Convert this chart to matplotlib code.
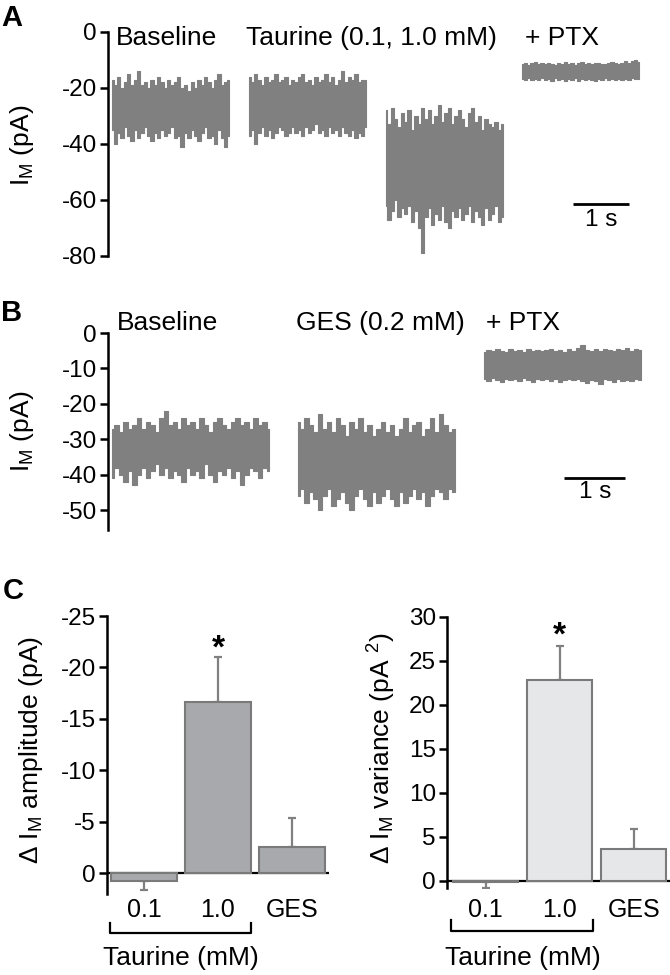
import numpy as np
import matplotlib
matplotlib.use('Agg')
import matplotlib.pyplot as plt

plt.rcParams['font.family'] = ['Liberation Sans', 'DejaVu Sans']
plt.rcParams['mathtext.fontset'] = 'custom'
plt.rcParams['mathtext.rm'] = 'Liberation Sans'
plt.rcParams['mathtext.it'] = 'Liberation Sans:italic'

# ---- panel A traces (pA): upper / lower envelope of the noisy current ----
a_labels = ['Baseline', 'Taurine (0.1, 1.0 mM)', '+ PTX']
a_base_hi = [-17, -19, -16, -20, -18, -15, -19, -17, -14, -19, -18, -20, -17, -19, -16, -18, -20, -17,
             -19, -18, -16, -20, -19, -21, -18, -20, -17, -19, -16, -18, -20, -17, -15, -19, -18, -17]
a_base_lo = [-35, -40, -36, -38, -34, -37, -39, -35, -38, -36, -34, -37, -39, -36, -38, -35, -37, -36,
             -34, -38, -37, -41, -36, -38, -35, -37, -39, -36, -34, -38, -37, -40, -35, -38, -41, -37]
a_tau01_hi = [-16, -18, -15, -17, -19, -16, -18, -17, -15, -18, -17, -16, -19, -17, -18, -16, -15, -18,
              -17, -19, -16, -18, -17, -15, -18, -16, -19, -17, -14, -18, -16, -17, -15, -18, -17, -17]
a_tau01_lo = [-37, -35, -40, -36, -34, -37, -35, -38, -36, -34, -35, -37, -36, -34, -36, -35, -37, -34,
              -36, -35, -33, -36, -35, -37, -34, -36, -35, -37, -34, -36, -37, -35, -38, -36, -37, -34]
a_tau10_hi = [-28, -33, -27, -31, -34, -29, -32, -28, -35, -30, -33, -27, -31, -28, -33, -30, -26, -32,
              -29, -27, -33, -30, -28, -31, -34, -29, -27, -32, -30, -35, -31, -33, -34, -32, -35, -33]
a_tau10_lo = [-62, -67, -64, -60, -66, -63, -65, -62, -68, -64, -70, -79, -66, -63, -69, -65, -67, -62,
              -68, -70, -64, -66, -63, -67, -65, -62, -68, -64, -66, -69, -63, -67, -65, -62, -68, -66]
a_ptx_hi = [-11.5, -11, -11.8, -11.2, -10.8, -11.5, -11, -11.6, -10.9, -11.3, -11.7, -11, -11.4, -10.8,
            -11.5, -11.2, -11.8, -11, -10.7, -11.4, -11.1, -11.6, -11, -10.9, -11.3, -11.5, -11, -10.6,
            -11.2, -11.4, -11, -10.5, -11.2, -10.3, -10.1, -10.8]
a_ptx_lo = [-16.8, -17.2, -16.5, -17, -16.7, -17.3, -16.6, -17, -16.9, -17.4, -16.6, -17, -16.8, -17.5,
            -16.7, -17.1, -16.6, -17.6, -16.9, -17.2, -16.7, -17, -17.4, -16.8, -17.1, -16.6, -17.3,
            -16.9, -17, -16.7, -17.2, -16.8, -17, -16.6, -16.9, -16.8]

# ---- panel B traces ----
b_labels = ['Baseline', 'GES (0.2 mM)', '+ PTX']
b_base_hi = [-27, -26, -28, -25, -27, -26, -24, -27, -25, -26, -28, -24, -22, -26, -25, -27, -24, -26,
             -25, -27, -24, -26, -28, -25, -24, -26, -27, -25, -24, -26, -25, -27, -24, -26, -25, -27]
b_base_lo = [-41, -38, -40, -42, -39, -43, -40, -38, -41, -39, -37, -40, -38, -41, -39, -40, -42, -38,
             -40, -39, -41, -37, -40, -42, -39, -40, -38, -41, -39, -43, -40, -38, -39, -41, -38, -39]
b_ges_hi = [-25, -27, -24, -26, -28, -23, -27, -25, -28, -24, -26, -29, -25, -27, -24, -28, -26, -29,
            -27, -25, -28, -26, -29, -27, -24, -28, -26, -25, -29, -27, -24, -28, -23, -26, -28, -27]
b_ges_lo = [-46, -44, -48, -45, -47, -50, -46, -44, -49, -47, -45, -48, -50, -46, -44, -47, -49, -45,
            -48, -46, -44, -47, -49, -45, -48, -46, -44, -47, -45, -49, -46, -44, -45, -47, -44, -45]
b_ptx_hi = [-5.5, -4.8, -5.2, -4.5, -5, -5.4, -4.6, -5.1, -4.8, -5.3, -4.4, -5, -4.7, -5.2, -4.9, -4.5,
            -5.1, -4.8, -5.3, -4.6, -5, -4.2, -3.5, -4.8, -5.1, -4.6, -5, -4.4, -4.9, -5.2, -4.6, -4.9,
            -4.3, -5, -4.5, -4.8]
b_ptx_lo = [-13, -13.5, -12.8, -13.2, -13.8, -12.9, -13.3, -13, -13.6, -12.8, -13.2, -13.9, -13.1, -13.4,
            -12.9, -13.5, -13, -13.7, -13.2, -12.9, -13.4, -13.1, -13.6, -14, -13.2, -13.5, -14.3, -13.1,
            -13.4, -13.8, -13, -13.5, -13.2, -13.6, -13, -13.3]

# ---- panel C summary ----
c_cats = ['0.1', '1.0', 'GES']
amp_mean = [0.8, -16.6, -2.5]
amp_err = [0.85, 4.4, 2.85]
var_mean = [-0.1, 22.8, 3.6]
var_err = [0.7, 3.9, 2.3]

TRACE = '#808080'
W, H = 670, 975
FS_TXT = 19
FS_TICK = 17.5
fig = plt.figure(figsize=(6.7, 9.75), dpi=100)


def px_axes(l, r, t, b):
    return fig.add_axes([l / W, 1 - b / H, (r - l) / W, (b - t) / H])


def trace_axes(ax, ticks, bottom):
    for s in ['top', 'right', 'bottom']:
        ax.spines[s].set_visible(False)
    ax.spines['left'].set_linewidth(1.8)
    ax.spines['left'].set_bounds(bottom, 0)
    ax.set_xticks([])
    ax.set_yticks(ticks)
    ax.set_yticklabels([str(v) for v in ticks])
    ax.tick_params(axis='y', direction='out', length=6, width=1.8, labelsize=FS_TICK, pad=2)


def draw_trace(ax, t0, dur, hi, lo):
    t = np.linspace(t0, t0 + dur, len(hi))
    ax.fill_between(t, lo, hi, step='mid', color=TRACE, lw=0.8, edgecolor=TRACE)


# Panel A
axA = px_axes(108, 645.6, 26.4, 261.6)
axA.set_xlim(0, 9.6)
axA.set_ylim(-82, 2)
trace_axes(axA, [0, -20, -40, -60, -80], -80)
dur_a = 2.09
for t0, hi, lo in zip([0.07, 2.52, 4.96, 7.39],
                      [a_base_hi, a_tau01_hi, a_tau10_hi, a_ptx_hi],
                      [a_base_lo, a_tau01_lo, a_tau10_lo, a_ptx_lo]):
    draw_trace(axA, t0, dur_a, hi, lo)
for x, lab in zip([0.14, 2.46, 7.44], a_labels):
    axA.text(x, -2.1, lab, fontsize=FS_TXT, ha='left', va='center')
axA.plot([8.3, 9.3], [-61.4, -61.4], color='k', lw=2, solid_capstyle='butt')
axA.text(8.8, -67.1, '1 s', fontsize=FS_TICK, ha='center', va='center')

# Panel B
axB = px_axes(108, 651, 322.4, 534.8)
axB.set_xlim(0, 8.9)
axB.set_ylim(-57, 3)
trace_axes(axB, [0, -10, -20, -30, -40, -50], -55.6)
dur_b = 2.57
for t0, hi, lo in zip([0.066, 3.11, 6.16],
                      [b_base_hi, b_ges_hi, b_ptx_hi],
                      [b_base_lo, b_ges_lo, b_ptx_lo]):
    draw_trace(axB, t0, dur_b, hi, lo)
for x, lab in zip([0.15, 3.08, 6.2], b_labels):
    axB.text(x, 2.8, lab, fontsize=FS_TXT, ha='left', va='center')
axB.plot([7.48, 8.48], [-41, -41], color='k', lw=2, solid_capstyle='butt')
axB.text(7.98, -44.9, '1 s', fontsize=FS_TICK, ha='center', va='center')


def bar_axes(ax, means, errs, fill, ticks, spine_lo, spine_hi, y_lab, y_br, y_br_end, y_tau, y_star):
    x = np.arange(len(means))
    ax.axhline(0, color='k', lw=1.6, zorder=1)
    # error bars point away from zero, one-sided
    lo_err = [e if m < 0 else 0 for m, e in zip(means, errs)]
    hi_err = [e if m >= 0 else 0 for m, e in zip(means, errs)]
    ax.errorbar(x, means, yerr=[lo_err, hi_err], fmt='none', ecolor=TRACE, elinewidth=1.6,
                capsize=3, capthick=1.6, zorder=2)
    ax.bar(x, means, width=0.88, color=fill, edgecolor='#7a7a7a', lw=1.5, zorder=3)
    for s in ['top', 'right', 'bottom']:
        ax.spines[s].set_visible(False)
    ax.spines['left'].set_linewidth(1.8)
    ax.spines['left'].set_bounds(spine_lo, spine_hi)
    ax.set_yticks(ticks)
    ax.set_yticklabels([str(v) for v in ticks])
    ax.tick_params(axis='y', direction='out', length=6, width=1.8, labelsize=FS_TICK, pad=2)
    ax.set_xticks([])
    for xi, c in zip(x, c_cats):
        ax.text(xi, y_lab, c, fontsize=FS_TICK + 0.5, ha='center', va='center', clip_on=False)
    ax.plot([-0.46, -0.46, 1.45, 1.45], [y_br_end, y_br, y_br, y_br_end], color='k', lw=1.6,
            clip_on=False)
    ax.text(0.5, y_tau, 'Taurine (mM)', fontsize=FS_TXT, ha='center', va='center', clip_on=False)
    ax.text(1, y_star, '*', fontsize=24, fontweight='bold', ha='center', va='center')


# Panel C, amplitude
axC1 = px_axes(107, 329, 610.9, 893.6)
axC1.set_xlim(-0.5, 2.5)
axC1.set_ylim(2.0, -25.5)
bar_axes(axC1, amp_mean, amp_err, '#a7a9ac', [0, -5, -10, -15, -20, -25], 2.0, -25,
         3.6, 5.84, 4.86, 8.27, -21.8)

# Panel C, variance
axC2 = px_axes(447, 670, 612.6, 888)
axC2.set_xlim(-0.52, 2.49)
axC2.set_ylim(-0.8, 30.5)
bar_axes(axC2, var_mean, var_err, '#e6e7e8', [0, 5, 10, 15, 20, 25, 30], -0.8, 30,
         -3.3, -5.68, -4.43, -8.75, 27.8)

# y labels and panel letters
fig.text(22 / W, 1 - 145 / H, r'I$_\mathrm{M}$ (pA)', rotation=90, fontsize=FS_TXT, ha='center', va='center')
fig.text(22 / W, 1 - 431 / H, r'I$_\mathrm{M}$ (pA)', rotation=90, fontsize=FS_TXT, ha='center', va='center')
fig.text(31 / W, 1 - 750 / H, r'Δ I$_\mathrm{M}$ amplitude (pA)', rotation=90, fontsize=FS_TXT,
         ha='center', va='center')
fig.text(382 / W, 1 - 748 / H, r'Δ I$_\mathrm{M}$ variance (pA $^\mathrm{2}$)', rotation=90,
         fontsize=FS_TXT, ha='center', va='center')
for lab, (x, y) in zip(['A', 'B', 'C'], [(12, 18), (12, 313), (13, 591)]):
    fig.text(x / W, 1 - y / H, lab, fontsize=21, fontweight='bold', ha='center', va='center')

fig.savefig('out.png', dpi=100)
